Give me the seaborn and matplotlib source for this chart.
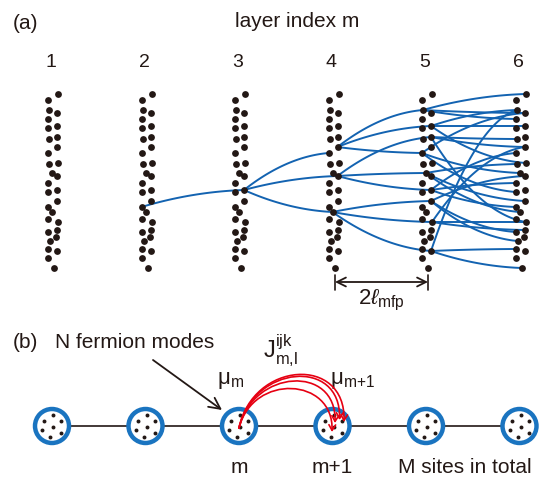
import numpy as np
import pandas as pd
import matplotlib
matplotlib.use('Agg')
import matplotlib.pyplot as plt
import seaborn as sns
from matplotlib.patches import Circle, FancyArrowPatch
from matplotlib.path import Path

sns.set_theme(style='white')
plt.rcParams['font.family'] = ['Liberation Sans', 'DejaVu Sans']
plt.rcParams['mathtext.fontset'] = 'custom'
plt.rcParams['mathtext.rm'] = 'Liberation Sans'
plt.rcParams['mathtext.it'] = 'Liberation Sans:italic'
plt.rcParams['mathtext.sf'] = 'Liberation Sans'

ink = '#231815'
blue_line = '#1363b1'
blue_ring = '#1a74c0'
red = '#e60012'

# ---- (a) layers of fermion modes
layers = [1, 2, 3, 4, 5, 6]
layer_x = [52, 145.5, 239, 332.5, 426, 519.5]
# same scatter of modes in every layer (offset from layer centre, height)
dot_dx = [6, -4, -3, 5, -4, 5, -4, 5, -3, 5, -4, 6, -3, 0, 5, -4, 5, -4,
          5, -4, 0, -4, 6, 5, -4, 4, -2, -4, 5, -4, 2]
dot_y = [94, 100, 110, 113, 119, 126, 128, 137, 139, 147, 153, 163, 164, 173,
         176, 183, 190, 192, 201, 207, 212, 219, 222, 230, 232, 237, 241, 249,
         251, 258, 268]

# couplings between neighbouring layers: start layer, start height, end height
edge_from = [2,
             3, 3, 3,
             4, 4, 4, 4, 4, 4, 4, 4, 4,
             5, 5, 5, 5, 5, 5, 5, 5, 5, 5, 5, 5, 5, 5, 5,
             5, 5, 5, 5, 5, 5, 5, 5, 5, 5, 5, 5]
edge_y0 = [207,
           190, 190, 190,
           147, 147, 147, 176, 176, 176, 212, 212, 212,
           110, 110, 110, 126, 126, 126, 137, 137, 137, 153, 153, 153, 173,
           173, 173, 190, 190, 190, 201, 201, 201, 222, 222, 222, 251, 251, 251]
edge_y1 = [190,
           153, 176, 212,
           110, 126, 153, 137, 173, 190, 201, 222, 251,
           94, 113, 119, 110, 126, 163, 222, 139, 147, 113, 173, 192, 164,
           201, 212, 153, 183, 207, 176, 232, 241, 147, 222, 230, 110, 249, 268]

# ---- (b) chain of sites
site_x = layer_x
site_y = 426
site_labels = {3: 'm', 4: 'm+1'}
mode_dx = [1, -8, 9, 1, -10, 9, -2]
mode_dy = [-11, -5, -5, 1, 4, 7, 11]
# J couplings: arcs from centre mode of site m to modes of site m+1
j_end_dx = [-0.5, 2.5, 7, 11.5]
j_end_dy = [6, -3, -6, -4]
j_rise = [55, 59, 63, 67]

fig = plt.figure(figsize=(5.48, 4.79), dpi=100)
ax = fig.add_axes([0, 0, 1, 1])

dots = pd.DataFrame([(lx + dx, y) for lx in layer_x for dx, y in zip(dot_dx, dot_y)],
                    columns=['x', 'y'])


def snap(layer, y):
    i = int(np.argmin(np.abs(np.array(dot_y) - y)))
    return layer_x[layer - 1] + dot_dx[i], dot_y[i]


t = np.linspace(0, 1, 60)
for lf, ya, yb in zip(edge_from, edge_y0, edge_y1):
    x0, y0 = snap(lf, ya)
    x1, y1 = snap(lf + 1, yb)
    xm, ym = (x0 + x1) / 2, (y0 + y1) / 2
    cx, cy = xm, ym + 0.8 * (y1 - ym)
    bx = (1 - t) ** 2 * x0 + 2 * (1 - t) * t * cx + t ** 2 * x1
    by = (1 - t) ** 2 * y0 + 2 * (1 - t) * t * cy + t ** 2 * y1
    ax.plot(bx, by, color=blue_line, lw=1.4, zorder=2, solid_capstyle='round')

sns.scatterplot(data=dots, x='x', y='y', color=ink, s=24, linewidth=0,
                ax=ax, legend=False, zorder=3)

ax.text(25, 23, '(a)', fontsize=15, ha='center', va='center', color=ink)
ax.text(297, 21, 'layer index m', fontsize=15, ha='center', va='center', color=ink)
for m, lx in zip(layers, layer_x):
    ax.text(lx - 1, 62, str(m), fontsize=14, ha='center', va='center', color=ink)

# mean free path marker
ax.plot([335, 335], [275, 290], color=ink, lw=1.2)
ax.plot([428, 428], [275, 290], color=ink, lw=1.2)
ax.annotate('', xy=(428, 282), xytext=(335, 282),
            arrowprops=dict(arrowstyle='<->', color=ink, lw=1.3,
                            mutation_scale=16, shrinkA=0, shrinkB=0))
ax.text(381, 304, r'$2\ell_{\mathrm{mfp}}$', fontsize=16, ha='center',
        va='baseline', color=ink)

# ---- (b)
ax.plot([site_x[0], site_x[-1]], [site_y, site_y], color=ink, lw=1.2, zorder=1)
modes = pd.DataFrame([(sx + dx, site_y + dy) for sx in site_x
                      for dx, dy in zip(mode_dx, mode_dy)], columns=['x', 'y'])
for sx in site_x:
    ax.add_patch(Circle((sx, site_y), 17, facecolor='white', edgecolor=blue_ring,
                        lw=3.2, zorder=2))
sns.scatterplot(data=modes, x='x', y='y', color=ink, s=8, linewidth=0,
                ax=ax, legend=False, zorder=3)

x0, y0 = site_x[2], site_y + 2
for dx, dy, h in zip(j_end_dx, j_end_dy, j_rise):
    xe, ye = site_x[3] + dx, site_y + dy
    verts = [(x0, y0), (x0 + 14, y0 - h), (xe + 2, ye - h), (xe, ye)]
    path = Path(verts, [Path.MOVETO, Path.CURVE4, Path.CURVE4, Path.CURVE4])
    ax.add_patch(FancyArrowPatch(path=path, arrowstyle='->,head_length=0.5,head_width=0.3',
                                 color=red, lw=1.2, mutation_scale=8,
                                 shrinkA=0, shrinkB=0, zorder=4))

ax.text(25, 342, '(b)', fontsize=15, ha='center', va='center', color=ink)
ax.text(55, 348, 'N fermion modes', fontsize=15, ha='left', va='baseline', color=ink)
ax.annotate('', xy=(222, 410), xytext=(153, 360),
            arrowprops=dict(arrowstyle='->', color=ink, lw=1.3,
                            mutation_scale=20, shrinkA=0, shrinkB=0))
ax.text(217, 384, r'$\mathrm{\mu}_{\mathrm{m}}$', fontsize=16, ha='left',
        va='baseline', color=ink)
ax.text(263, 358, r'$\mathrm{J}^{\mathrm{ijk}}_{\mathrm{m{,}l}}$', fontsize=17,
        ha='left', va='baseline', color=ink)
ax.text(330, 384, r'$\mathrm{\mu}_{\mathrm{m{+}1}}$', fontsize=16, ha='left',
        va='baseline', color=ink)
for i, lab in site_labels.items():
    ax.text(site_x[i - 1], 473, lab, fontsize=15, ha='center', va='baseline', color=ink)
ax.text(398, 473, 'M sites in total', fontsize=15, ha='left', va='baseline', color=ink)

ax.set_xlim(0, 548)
ax.set_ylim(479, 0)
ax.axis('off')
fig.savefig('out.png', dpi=100)
